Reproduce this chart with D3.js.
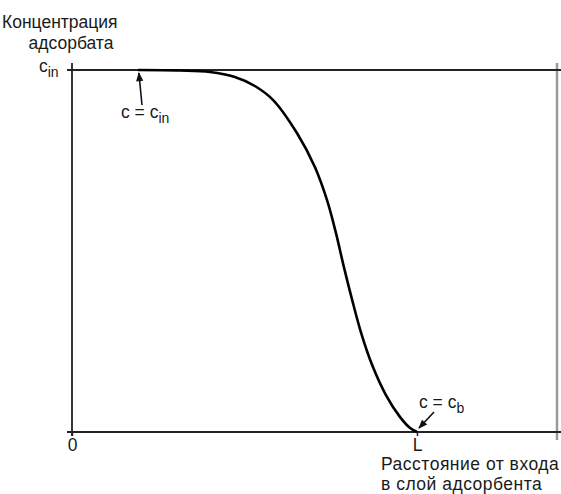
<!DOCTYPE html>
<html><head><meta charset="utf-8">
<script src="https://cdn.jsdelivr.net/npm/d3@7"></script>
<style>
html,body{margin:0;padding:0;background:#fff;}
svg text{font-family:"Liberation Sans",Arial,sans-serif;fill:#1a1a1a;}
</style></head>
<body>
<svg id="chart" width="561" height="494"></svg>
<script>
// Distance from bed inlet (fraction of L) and concentration (fraction of c_in)
const distance = [0.191, 0.313, 0.400, 0.472, 0.530, 0.583, 0.652, 0.704, 0.739, 0.765, 0.788, 0.812, 0.838, 0.870, 0.910, 0.951, 0.980, 1.0];
const concentration = [1.0, 0.9986, 0.9945, 0.9807, 0.9558, 0.917, 0.826, 0.732, 0.641, 0.550, 0.456, 0.365, 0.274, 0.185, 0.102, 0.041, 0.011, 0.0];
const xTickValues = [0, 1];
const xTickLabels = ["0", "L"];
const yTickValues = [1];
const yTickLabels = ["c", "in"];
const xAxisExtent = [0, 1.418];
const yAxisExtent = [0, 1];
const yTitle = ["Концентрация", "адсорбата"];
const xTitle = ["Расстояние от входа", "в слой адсорбента"];
const inletLabel = ["c = c", "in"];
const breakLabel = ["c = c", "b"];

const svg = d3.select("#chart");
const x = d3.scaleLinear().domain([0, 1]).range([72, 417]);
const y = d3.scaleLinear().domain([0, 1]).range([432, 70]);

const axisColor = "#222";
const FS = 17.5, SUB = 14;

svg.append("defs").append("marker")
  .attr("id", "ah").attr("viewBox", "0 0 10 10").attr("refX", 9).attr("refY", 5)
  .attr("markerWidth", 10).attr("markerHeight", 9).attr("markerUnits", "userSpaceOnUse")
  .attr("orient", "auto")
  .append("path").attr("d", "M0,1 L10,5 L0,9 Z").attr("fill", "#111");

// right gray frame line
svg.append("line")
  .attr("x1", 557).attr("x2", 557).attr("y1", 63).attr("y2", 440)
  .attr("stroke", "#9a9a9a").attr("stroke-width", 2.5);

// top c_in line
svg.append("line")
  .attr("x1", x(0) - 5).attr("x2", x(xAxisExtent[1]))
  .attr("y1", y(1)).attr("y2", y(1))
  .attr("stroke", axisColor).attr("stroke-width", 1.8);

// x axis
const xAxisG = svg.append("g").attr("transform", `translate(0,${y(0)})`)
  .call(d3.axisBottom(x).tickValues(xTickValues).tickSize(4).tickSizeOuter(0)
    .tickFormat((d, i) => xTickLabels[i]));
xAxisG.select(".domain").remove();
xAxisG.selectAll(".tick line").attr("stroke", axisColor).attr("stroke-width", 1.5);
xAxisG.selectAll(".tick text").attr("font-size", FS).attr("dy", null).attr("y", 19)
  .attr("fill", "#1a1a1a").attr("font-family", "Liberation Sans, Arial, sans-serif");
xAxisG.append("line").attr("x1", x(0) - 5).attr("x2", x(xAxisExtent[1]))
  .attr("y1", 0).attr("y2", 0).attr("stroke", axisColor).attr("stroke-width", 1.8);

// y axis
const yAxisG = svg.append("g").attr("transform", `translate(${x(0)},0)`)
  .call(d3.axisLeft(y).tickValues(yTickValues).tickSize(0).tickFormat(""));
yAxisG.select(".domain").remove();
yAxisG.append("line").attr("x1", 0).attr("x2", 0)
  .attr("y1", y(yAxisExtent[1]) - 7).attr("y2", y(0) + 4)
  .attr("stroke", axisColor).attr("stroke-width", 1.8);
const yt = svg.append("text").attr("x", 39).attr("y", y(1) + 2).attr("font-size", FS);
yt.append("tspan").text(yTickLabels[0]);
yt.append("tspan").attr("dy", 5).attr("font-size", SUB).text(yTickLabels[1]);

// y title
svg.append("text").attr("x", 2).attr("y", 28).attr("font-size", FS).text(yTitle[0]);
svg.append("text").attr("x", 71).attr("y", 49).attr("font-size", FS)
  .attr("text-anchor", "middle").text(yTitle[1]);

// x title
xTitle.forEach((t, i) => {
  svg.append("text").attr("x", 381).attr("y", 470 + i * 19.5).attr("font-size", FS)
    .attr("letter-spacing", 0.5).text(t);
});

// curve
const pts = distance.map((d, i) => [d, concentration[i]]);
svg.append("path").datum(pts)
  .attr("fill", "none").attr("stroke", "#000").attr("stroke-width", 2.6)
  .attr("d", d3.line().x(d => x(d[0])).y(d => y(d[1])).curve(d3.curveCatmullRom.alpha(0.5)));

// annotation c = c_in
const a1 = svg.append("text").attr("x", 121).attr("y", 118).attr("font-size", FS);
a1.append("tspan").text(inletLabel[0]);
a1.append("tspan").attr("dy", 5).attr("font-size", SUB).text(inletLabel[1]);
svg.append("line").attr("x1", 142).attr("y1", 105).attr("x2", x(distance[0]) + 1).attr("y2", y(1) + 3)
  .attr("stroke", "#111").attr("stroke-width", 1.6).attr("marker-end", "url(#ah)");

// annotation c = c_b
const a2 = svg.append("text").attr("x", 419).attr("y", 408).attr("font-size", FS);
a2.append("tspan").text(breakLabel[0]);
a2.append("tspan").attr("dy", 5).attr("font-size", SUB).text(breakLabel[1]);
svg.append("line").attr("x1", 434).attr("y1", 412).attr("x2", x(1) + 2).attr("y2", y(0) - 4)
  .attr("stroke", "#111").attr("stroke-width", 1.6).attr("marker-end", "url(#ah)");
</script>
</body></html>
